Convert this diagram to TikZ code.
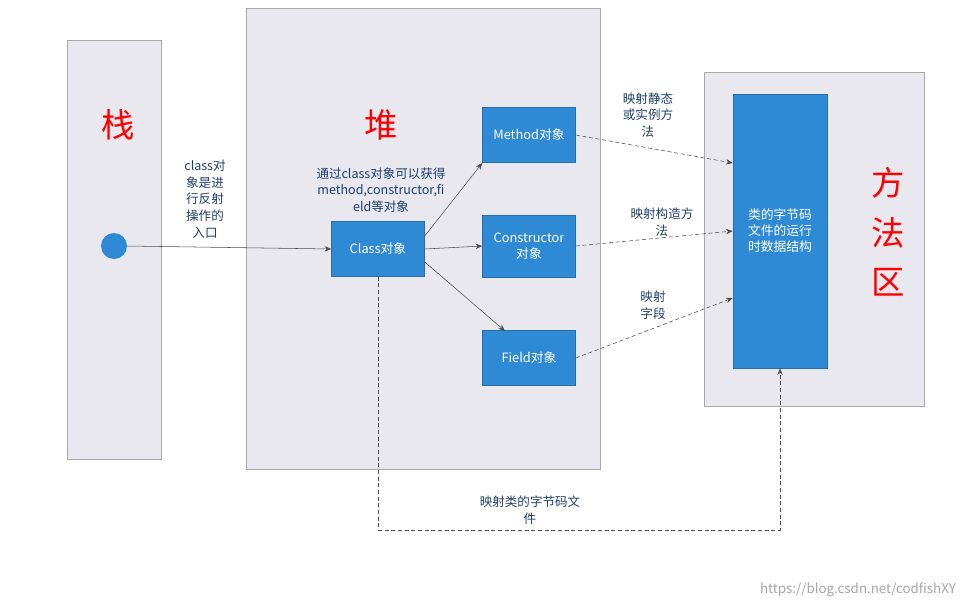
\documentclass[tikz,border=0pt]{standalone}
\usepackage{fontspec}
\setmainfont{Noto Sans CJK SC}
\usetikzlibrary{arrows.meta}
\definecolor{panel}{HTML}{E8E8EE}
\definecolor{pborder}{HTML}{A8A8B0}
\definecolor{bblue}{HTML}{2F8AD6}
\definecolor{tblue}{HTML}{1F3F6A}
\tikzset{
 panel/.style={draw=pborder,fill=panel,line width=0.5pt},
 box/.style={draw=bblue!80!black,fill=bblue,text=white,font=\fontsize{9.6}{12}\selectfont,align=center,line width=0.4pt},
 lbl/.style={text=tblue,font=\fontsize{9.4}{12.5}\selectfont,align=center},
 big/.style={text=red,font=\fontsize{25}{30}\selectfont},
 arr/.style={-{Stealth[length=5pt,width=4pt]},draw=black!70,line width=0.4pt},
 darr/.style={arr,dashed,dash pattern=on 3pt off 2pt}
}
\begin{document}
\begin{tikzpicture}[x=0.75pt,y=-0.75pt]
\useasboundingbox (0,0) rectangle (975,608);
\draw[panel] (67,40) rectangle (161,459);
\draw[panel] (246,8) rectangle (600,469);
\draw[panel] (704,72) rectangle (924,406);
\node[box,minimum width=94*0.75pt,minimum height=274*0.75pt] (ma) at (780,231) {类的字节码\\文件的运行\\时数据结构};
\node[big] (s) at (118,125) {栈};
\node[big] (h) at (381,125) {堆};
\node[big,align=center,font=\fontsize{25}{37}\selectfont] (f) at (888,232) {方\\法\\区};
\node[circle,fill=bblue,minimum size=26*0.75pt,inner sep=0pt] (c) at (114,246) {};
\node[box,minimum width=93*0.75pt,minimum height=55*0.75pt] (cl) at (378,249) {Class对象};
\node[box,minimum width=93*0.75pt,minimum height=55*0.75pt] (me) at (529,135) {Method对象};
\node[box,minimum width=93*0.75pt,minimum height=62*0.75pt] (co) at (529,246) {Constructor\\对象};
\node[box,minimum width=93*0.75pt,minimum height=55*0.75pt] (fi) at (529,358) {Field对象};
\node[lbl] (t1) at (205,199) {class对\\象是进\\行反射\\操作的\\入口};
\node[lbl] (t2) at (381,190) {通过class对象可以获得\\method,constructor,fi\\eld等对象};
\node[lbl] (t3) at (648,115) {映射静态\\或实例方\\法};
\node[lbl] (t4) at (662,222) {映射构造方\\法};
\node[lbl] (t5) at (653,305) {映射\\字段};
\node[lbl] (t6) at (530,510) {映射类的字节码文\\件};
\node[text=black!35,font=\fontsize{10}{12}\selectfont] (w) at (858,590) {https://blog.csdn.net/codfishXY};
\draw[arr] (c.east) -- (cl.west);
\draw[arr] (cl.east|-378,236) -- (me.south west|-505,163) ;
\draw[arr] (cl.east) -- (co.west);
\draw[arr] (cl.east|-378,262) -- (505,331);
\draw[darr] (me.east) -- (ma.west|-0,163);
\draw[darr] (co.east) -- (ma.west|-0,231);
\draw[darr] (fi.east) -- (ma.west|-0,298);
\coordinate (b1) at (378,530);
\coordinate (b2) at (780,530);
\draw[darr] (cl.south) -- (b1) -- (b2) -- (ma.south);
\end{tikzpicture}
\end{document}
